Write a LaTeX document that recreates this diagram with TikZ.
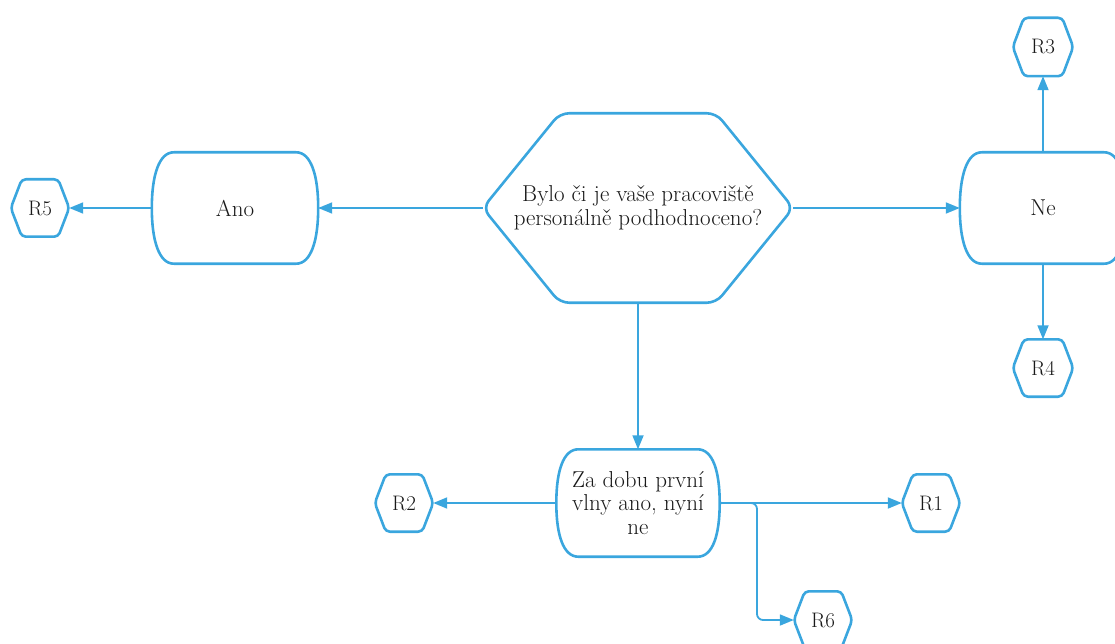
\documentclass[tikz,border=0pt]{standalone}
\usepackage{fontspec}
\usetikzlibrary{arrows.meta,calc}
\definecolor{flowblue}{RGB}{58,166,222}
\definecolor{txt}{RGB}{25,25,25}
\tikzset{
  x=1pt,y=-1pt,
  shapeline/.style={draw=flowblue,line width=2.6pt,line join=round},
  conn/.style={draw=flowblue,line width=1.8pt,-{Triangle[length=14pt,width=11pt]}},
  base/.style={shape=rectangle,draw=none,inner sep=0pt,align=center,text=txt,
    font=\fontsize{23}{23.5}\selectfont},
  bighex/.style={base,minimum width=310pt,minimum height=189pt},
  smallhex/.style={base,minimum width=58pt,minimum height=57pt,font=\fontsize{21}{23}\selectfont},
  capsule/.style={base,minimum width=166pt,minimum height=111pt},
  zacaps/.style={base,minimum width=163pt,minimum height=107pt},
}
\newcommand\hexoutline[3]{% name, slant, corner radius
  \draw[shapeline,rounded corners=#3] (#1.north) -- ([xshift=-#2]#1.north east) -- (#1.east)
    -- ([xshift=-#2]#1.south east) -- ([xshift=#2]#1.south west) -- (#1.west)
    -- ([xshift=#2]#1.north west) -- cycle;}
\newcommand\capsoutline[2]{% name, inset
  \draw[shapeline] ([xshift=#2]#1.north west) -- ([xshift=-#2]#1.north east)
    .. controls +(15,0) and ($(#1.east)+(0,-32)$) .. (#1.east)
    .. controls +(0,32) and ($([xshift=-#2]#1.south east)+(15,0)$) .. ([xshift=-#2]#1.south east)
    -- ([xshift=#2]#1.south west)
    .. controls +(-15,0) and ($(#1.west)+(0,32)$) .. (#1.west)
    .. controls +(0,-32) and ($([xshift=#2]#1.north west)+(-15,0)$) .. ([xshift=#2]#1.north west) -- cycle;}
\begin{document}
\begin{tikzpicture}
\useasboundingbox (0,0) rectangle (1115,644);
\node[bighex] (q) at (638,208) {Bylo či je vaše pracoviště\\personálně podhodnoceno?};
\node[capsule] (ano) at (235,208) {Ano};
\node[capsule] (ne) at (1043,208) {Ne};
\node[zacaps] (za) at (638,503) {Za dobu první\\vlny ano, nyní\\ne};
\node[smallhex] (r5) at (40,208) {R5};
\node[smallhex,minimum width=60pt,minimum height=58pt] (r3) at (1043,47) {R3};
\node[smallhex,minimum width=60pt] (r4) at (1043,368) {R4};
\node[smallhex] (r2) at (404,503) {R2};
\node[smallhex] (r1) at (931,503) {R1};
\node[smallhex] (r6) at (823,620) {R6};
\hexoutline{q}{77pt}{9pt}
\hexoutline{r5}{11pt}{4pt}
\hexoutline{r3}{11pt}{4pt}
\hexoutline{r4}{11pt}{4pt}
\hexoutline{r2}{11pt}{4pt}
\hexoutline{r1}{11pt}{4pt}
\hexoutline{r6}{11pt}{4pt}
\capsoutline{ano}{22pt}
\capsoutline{ne}{22pt}
\capsoutline{za}{22pt}
\coordinate (br) at (757,503);
\draw[conn] (q.west) -- (ano.east);
\draw[conn] (ano.west) -- (r5.east);
\draw[conn] (q.east) -- (ne.west);
\draw[conn] (ne.north) -- (r3.south);
\draw[conn] (ne.south) -- (r4.north);
\draw[conn] (q.south) -- (za.north);
\draw[conn] (za.west) -- (r2.east);
\draw[conn] (za.east) -- (r1.west);
\draw[conn,rounded corners=6pt] (za.east) -- (br) |- (r6.west);
\end{tikzpicture}
\end{document}
